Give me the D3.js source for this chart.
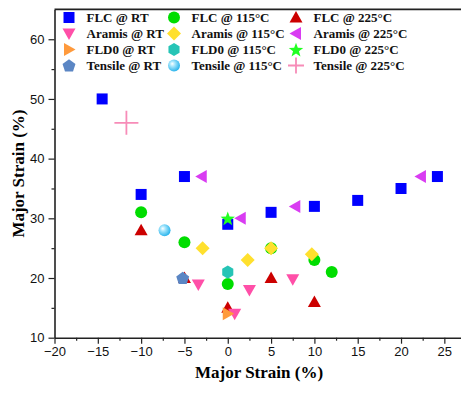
<!DOCTYPE html>
<html><head><meta charset="utf-8">
<script src="https://cdn.jsdelivr.net/npm/d3@7"></script>
<style>
html,body{margin:0;padding:0;background:#fff;overflow:hidden}
svg{display:block}
</style></head>
<body><div id="chart"></div>
<script>
// ---------- DATA ----------
const seriesNames = [
  "FLC @ RT","FLC @ 115°C","FLC @ 225°C",
  "Aramis @ RT","Aramis @ 115°C","Aramis @ 225°C",
  "FLD0 @ RT","FLD0 @ 115°C","FLD0 @ 225°C",
  "Tensile @ RT","Tensile @ 115°C","Tensile @ 225°C"
];
const flcRT      = [[-14.5,50],[-10,34],[-5,37],[0,29],[5,31],[10,32],[15,33],[20,35],[24.2,37]];
const flc115     = [[-10,31],[-5,26],[0,19],[5,25],[10,23],[12,21]];
const flc225     = [[-10,28],[-5,20],[0,15],[5,20],[10,16]];
const aramisRT   = [[-3.4,18.9],[0.8,14],[2.5,18],[7.5,19.8]];
const aramis115  = [[-2.9,25],[2.3,23],[5,25],[9.7,24]];
const aramis225  = [[-3,37],[1.5,30],[7.8,32],[22.3,37]];
const fld0RT     = [[0,14]];
const fld0115    = [[0,21]];
const fld0225    = [[0,30]];
const tensileRT  = [[-5.2,20]];
const tensile115 = [[-7.3,28]];
const tensile225 = [[-11.7,46]];
const seriesData = [flcRT,flc115,flc225,aramisRT,aramis115,aramis225,fld0RT,fld0115,fld0225,tensileRT,tensile115,tensile225];
const xTicks = [-20,-15,-10,-5,0,5,10,15,20,25];
const yTicks = [10,20,30,40,50,60];
const xTitle = "Major Strain (%)";
const yTitle = "Major Strain (%)";

// ---------- STYLE ----------
const seriesShape = ["square","circle","triUp","triDown","diamond","triLeft","triRight","hexagon","star","pentagon","sphere","plus"];
const seriesColor = ["#0000ff","#00dd00","#cc0000","#ff4fa8","#ffe02e","#d93cf2","#ff9a3c","#26c4b6","#22ff22","#5b86c4","#4cc6f3","#f78cb8"];

const W = 461, H = 393;
const svg = d3.select("#chart").append("svg").attr("width",W).attr("height",H);
const defs = svg.append("defs");
const grad = defs.append("radialGradient").attr("id","sph").attr("cx","40%").attr("cy","40%").attr("r","60%").attr("fx","35%").attr("fy","35%");
grad.append("stop").attr("offset","0%").attr("stop-color","#ffffff");
grad.append("stop").attr("offset","35%").attr("stop-color","#a6e6fc");
grad.append("stop").attr("offset","100%").attr("stop-color","#2db5ec");

const x = d3.scaleLinear().domain([-20,27.5]).range([54.5,466]);
const y = d3.scaleLinear().domain([10,65]).range([337.7,9.4]);

function shapePath(t){
  const p = d3.path();
  switch(t){
    case "square": p.rect(-5.5,-5.5,11,11); break;
    case "circle": case "sphere": p.arc(0,0,6,0,2*Math.PI); break;
    case "triUp": p.moveTo(0,-6.5); p.lineTo(6.5,5); p.lineTo(-6.5,5); p.closePath(); break;
    case "triDown": p.moveTo(0,6.5); p.lineTo(6.5,-5); p.lineTo(-6.5,-5); p.closePath(); break;
    case "triLeft": p.moveTo(-6.5,0); p.lineTo(5,-6.5); p.lineTo(5,6.5); p.closePath(); break;
    case "triRight": p.moveTo(6.5,0); p.lineTo(-5,-6.5); p.lineTo(-5,6.5); p.closePath(); break;
    case "diamond": p.moveTo(0,-7); p.lineTo(7,0); p.lineTo(0,7); p.lineTo(-7,0); p.closePath(); break;
    case "hexagon": for(let i=0;i<6;i++){const a=Math.PI/3*i-Math.PI/2; const px=6.4*Math.cos(a), py=6.6*Math.sin(a); if(i===0)p.moveTo(px,py); else p.lineTo(px,py);} p.closePath(); break;
    case "pentagon": for(let i=0;i<5;i++){const a=2*Math.PI/5*i-Math.PI/2; const px=6.8*Math.cos(a), py=6.8*Math.sin(a)+0.6; if(i===0)p.moveTo(px,py); else p.lineTo(px,py);} p.closePath(); break;
    case "star": for(let i=0;i<10;i++){const a=Math.PI/5*i-Math.PI/2; const r=i%2?3.1:7.6; const px=r*Math.cos(a), py=r*Math.sin(a)+0.8; if(i===0)p.moveTo(px,py); else p.lineTo(px,py);} p.closePath(); break;
    case "plus": p.moveTo(-12,0); p.lineTo(12,0); p.moveTo(0,-12); p.lineTo(0,12); break;
  }
  return p.toString();
}
function plusSmall(){const p=d3.path(); p.moveTo(-8,0);p.lineTo(8,0);p.moveTo(0,-8);p.lineTo(0,8);return p.toString();}

function drawMark(g, t, color, small){
  if(t==="plus"){
    g.append("path").attr("d", small?plusSmall():shapePath(t)).attr("fill","none").attr("stroke",color).attr("stroke-width",1.8);
  } else if(t==="sphere"){
    g.append("path").attr("d",shapePath(t)).attr("fill","url(#sph)");
  } else {
    g.append("path").attr("d",shapePath(t)).attr("fill",color);
  }
}

// ---------- AXES ----------
const axisColor = "#222";
const gx = svg.append("g").attr("transform",`translate(0,${y(10)})`);
gx.call(d3.axisBottom(x).tickValues(d3.range(-17.5,27.5,5)).tickSize(3).tickFormat(""))
  .call(g=>g.select(".domain").remove());
gx.append("g").call(d3.axisBottom(x).tickValues(xTicks).tickSize(6).tickSizeOuter(0).tickPadding(3).tickFormat(d3.format("d")));
gx.selectAll("text").attr("font-family","'Liberation Sans',Arial,sans-serif").attr("font-size","13px").attr("fill","#111");
gx.selectAll("line").attr("stroke",axisColor).attr("stroke-width",1.2);
gx.selectAll(".domain").attr("stroke",axisColor).attr("stroke-width",1.6);

const gy = svg.append("g").attr("transform",`translate(${x(-20)},0)`);
gy.call(d3.axisLeft(y).tickValues(d3.range(15,65,10)).tickSize(3).tickFormat(""))
  .call(g=>g.select(".domain").remove());
gy.append("g").call(d3.axisLeft(y).tickValues(yTicks).tickSize(6).tickSizeOuter(0).tickPadding(4).tickFormat(d3.format("d")));
gy.selectAll("text").attr("font-family","'Liberation Sans',Arial,sans-serif").attr("font-size","13px").attr("fill","#111");
gy.selectAll("line").attr("stroke",axisColor).attr("stroke-width",1.2);
gy.selectAll(".domain").attr("stroke",axisColor).attr("stroke-width",1.6);
svg.append("line").attr("x1",x(-20)).attr("x2",W+5).attr("y1",y(65)).attr("y2",y(65)).attr("stroke",axisColor).attr("stroke-width",1.6);

// titles
svg.append("text").attr("x",259).attr("y",378).attr("text-anchor","middle")
  .attr("font-family","'Liberation Serif','Times New Roman',serif").attr("font-weight","bold").attr("font-size","17px").text(xTitle);
svg.append("text").attr("transform",`translate(24,${(y(10)+y(65))/2}) rotate(-90)`).attr("text-anchor","middle")
  .attr("font-family","'Liberation Serif','Times New Roman',serif").attr("font-weight","bold").attr("font-size","17px").text(yTitle);

// ---------- MARKS ----------
seriesData.forEach((pts,i)=>{
  const g = svg.append("g").attr("class","series");
  pts.forEach(d=>{
    const m = g.append("g").attr("transform",`translate(${x(d[0])},${y(d[1])})`);
    drawMark(m, seriesShape[i], seriesColor[i], false);
  });
});

// ---------- LEGEND ----------
const legCols = [69,174,296];
const legRows = [17.5,33.5,49.5,65.5];
const legend = svg.append("g");
seriesNames.forEach((name,i)=>{
  const col = i%3, row = Math.floor(i/3);
  const g = legend.append("g").attr("transform",`translate(${legCols[col]},${legRows[row]})`);
  drawMark(g, seriesShape[i], seriesColor[i], true);
  g.append("text").attr("x",17.5).attr("y",4.5)
    .attr("font-family","'Liberation Serif','Times New Roman',serif").attr("font-weight","bold").attr("font-size","13px").attr("fill","#111").text(name);
});
</script></body></html>
